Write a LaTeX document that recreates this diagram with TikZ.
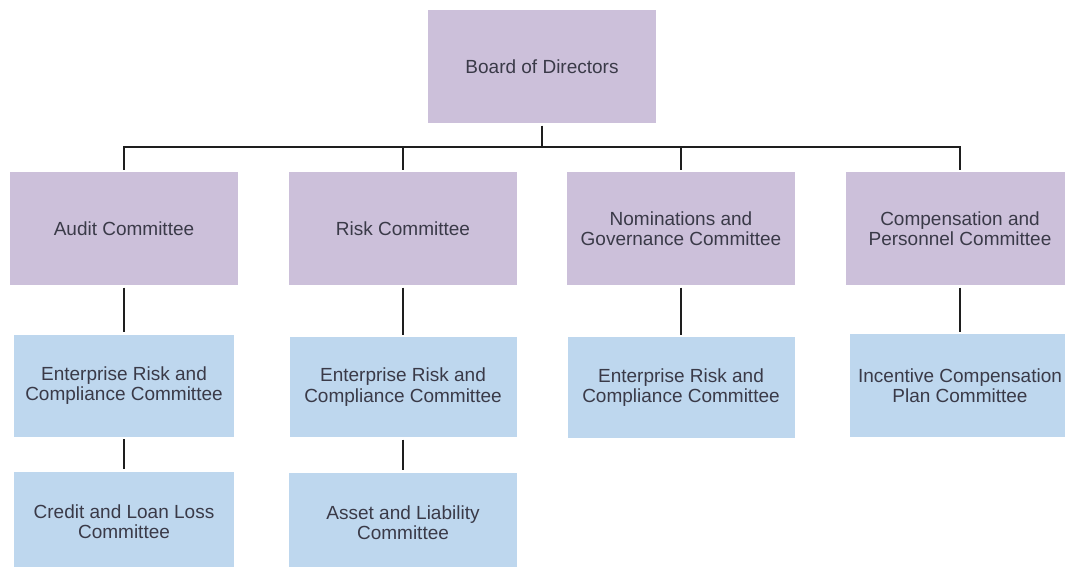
\documentclass[tikz,border=0pt]{standalone}
\usepackage{fontspec}
\setmainfont{Liberation Sans}
\definecolor{orgpurple}{RGB}{204,192,218}
\definecolor{orgblue}{RGB}{190,215,238}
\definecolor{orgtext}{RGB}{58,58,72}
\definecolor{orgline}{RGB}{30,30,30}

\begin{document}
\begin{tikzpicture}[x=1pt, y=-1pt,
    unit/.style={fill=orgpurple, text=orgtext, align=center, inner sep=0pt,
        outer sep=2.5pt, minimum width=228pt, minimum height=113pt,
        font=\fontsize{19}{20.5}\selectfont},
    subunit/.style={unit, fill=orgblue, minimum width=220pt, minimum height=102pt},
    link/.style={draw=orgline, line width=2.4pt}
]

% === Marco de la figura ===
\useasboundingbox (0,0) rectangle (1065,566);
\clip (0,0) rectangle (1065,566);

% === Consejo ===
\node[unit] (board) at (542, 66.5) {Board of Directors};
\coordinate (bus) at (542, 147);

% === Comités del consejo ===
\node[unit] (audit) at (124, 228.5) {Audit Committee};
\node[unit] (risk) at (403, 228.5) {Risk Committee};
\node[unit] (nomin) at (681, 228.5) {Nominations and\\Governance Committee};
\node[unit] (compens) at (960, 228.5) {Compensation and\\Personnel Committee};

% === Comités de gestión ===
\node[subunit] (auditerc) at (124, 385.5) {Enterprise Risk and\\Compliance Committee};
\node[subunit, minimum width=227pt, minimum height=100pt] (riskerc) at (403, 387) {Enterprise Risk and\\Compliance Committee};
\node[subunit, minimum width=227pt, minimum height=101pt] (nominerc) at (681, 387.5) {Enterprise Risk and\\Compliance Committee};
\node[subunit, minimum height=103pt] (incentive) at (960, 385.5) {Incentive Compensation\\Plan Committee};

\node[subunit, minimum height=100pt] (credit) at (124, 521.5) {Credit and Loan Loss\\Committee};
\node[subunit, minimum width=228pt, minimum height=100pt] (alco) at (403, 522.5) {Asset and Liability\\Committee};

% === Líneas de dependencia ===
\draw[link] (board) -- (bus);
\draw[link] (audit) |- (bus) -| (compens);
\draw[link] (risk) -- (risk |- bus);
\draw[link] (nomin) -- (nomin |- bus);

\draw[link] (audit) -- (auditerc);
\draw[link] (risk) -- (riskerc);
\draw[link] (nomin) -- (nominerc);
\draw[link] (compens) -- (incentive);

\draw[link] (auditerc) -- (credit);
\draw[link] (riskerc) -- (alco);

\end{tikzpicture}
\end{document}
